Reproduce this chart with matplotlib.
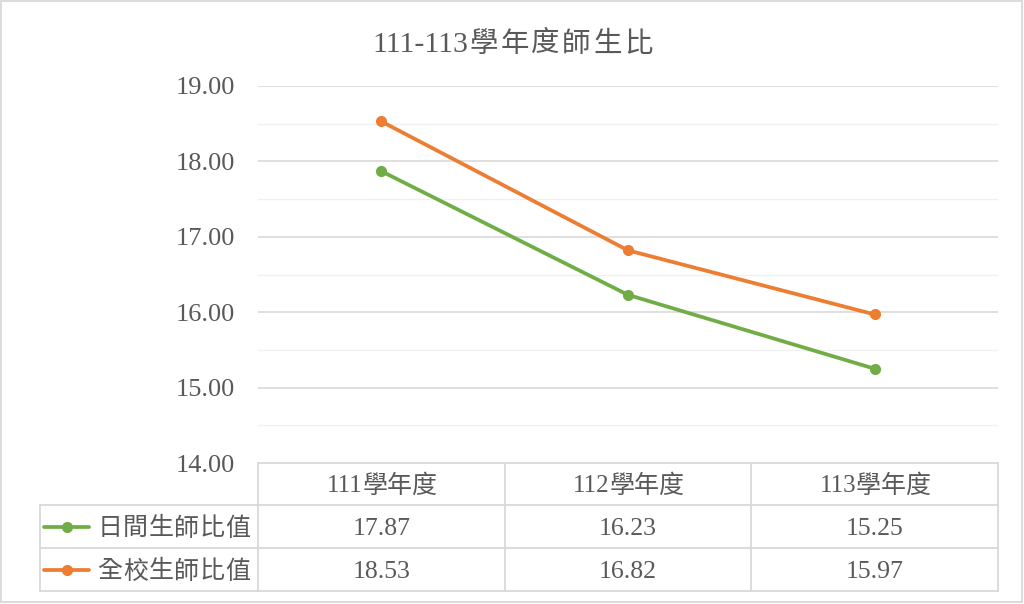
import matplotlib
matplotlib.use("Agg")
import matplotlib.pyplot as plt
from matplotlib.lines import Line2D
from matplotlib.patches import Rectangle

categories = ["111學年度", "112學年度", "113學年度"]
series_names = ["日間生師比值", "全校生師比值"]
day_values = [17.87, 16.23, 15.25]
all_values = [18.53, 16.82, 15.97]
colors = ["#70ad47", "#ed7d31"]
title = "111-113學年度師生比"
yticks = [14, 15, 16, 17, 18, 19]

W, H = 1024, 604
FONT = ["Liberation Serif", "Noto Sans CJK TC", "DejaVu Sans"]
TXT = "#595959"
GRID = "#d9d9d9"

fig = plt.figure(figsize=(W / 100, H / 100), dpi=100)
renderer = fig.canvas.get_renderer()


def fx(px):
    return px / W


def fy(py):
    return 1 - py / H


def is_cjk(ch):
    return ord(ch) > 0x2E80


def segments(s):
    segs = []
    buf = ""
    for ch in s:
        if is_cjk(ch):
            if buf:
                segs.append(("lat", buf))
                buf = ""
            segs.append(("cjk", ch))
        else:
            buf += ch
    if buf:
        segs.append(("lat", buf))
    return segs


def measure(txt, size):
    t = fig.text(0, 0, txt, fontfamily=FONT, fontsize=size)
    w = t.get_window_extent(renderer=renderer).width
    t.remove()
    return w


def spaced_text(x_px, y_px, s, size, pitch, ha="left", cjk_size=None):
    cjk_size = cjk_size or size
    segs = segments(s)
    widths = [measure(t, size) if k == "lat" else pitch for k, t in segs]
    total = sum(widths)
    x0 = x_px - total / 2 if ha == "center" else x_px
    for (k, t), w in zip(segs, widths):
        if k == "lat":
            fig.text(fx(x0), fy(y_px), t, ha="left", va="center_baseline",
                     fontfamily=FONT, fontsize=size, color=TXT)
        else:
            fig.text(fx(x0 + w / 2), fy(y_px), t, ha="center", va="center_baseline",
                     fontfamily=FONT, fontsize=cjk_size, color=TXT)
        x0 += w


# plot area
left, right, top, bottom = 258, 998, 86, 463
ax = fig.add_axes([fx(left), fy(bottom), fx(right - left), (bottom - top) / H])
ax.set_xlim(-0.5, len(categories) - 0.5)
ax.set_ylim(14, 19)
for s in ax.spines.values():
    s.set_visible(False)
ax.set_xticks([])
ax.set_yticks(yticks)
ax.set_yticklabels([f"{v:.2f}" for v in yticks], fontfamily=FONT, fontsize=19, color=TXT)
ax.tick_params(axis="y", length=0, pad=16.5)
for v in yticks[1:]:
    ax.axhline(v, color=GRID, lw=1.2, zorder=0)
for v in yticks[:-1]:
    ax.axhline(v + 0.5, color="#f0f0f0", lw=1.0, zorder=0)

x = list(range(len(categories)))
for vals, c in zip([day_values, all_values], colors):
    ax.plot(x, vals, color=c, lw=2.7, marker="o", markersize=7,
            solid_capstyle="round", zorder=3)

# title
spaced_text(513, 42, title, 21.5, 31, ha="center", cjk_size=20.5)

# data table
row_y = [463, 505, 548, 591]
tbl_left = 40
col_w = (right - left) / len(categories)
col_x = [left + i * col_w for i in range(len(categories) + 1)]
lc = GRID
lw = 1.3
fig.add_artist(Line2D([fx(left), fx(right)], [fy(row_y[0])] * 2, color=lc, lw=lw))
for yy in row_y[1:]:
    fig.add_artist(Line2D([fx(tbl_left), fx(right)], [fy(yy)] * 2, color=lc, lw=lw))
fig.add_artist(Line2D([fx(tbl_left)] * 2, [fy(row_y[1]), fy(row_y[3])], color=lc, lw=lw))
for xx in col_x:
    fig.add_artist(Line2D([fx(xx)] * 2, [fy(row_y[0]), fy(row_y[3])], color=lc, lw=lw))

# header
for i, cat in enumerate(categories):
    cx = (col_x[i] + col_x[i + 1]) / 2
    spaced_text(cx, (row_y[0] + row_y[1]) / 2, cat, 18, 24.5, ha="center")

# rows
for r, (name, vals, c) in enumerate(zip(series_names, [day_values, all_values], colors)):
    yc = (row_y[r + 1] + row_y[r + 2]) / 2
    fig.add_artist(Line2D([fx(44), fx(89)], [fy(yc)] * 2, color=c, lw=2.7,
                          solid_capstyle="round"))
    fig.add_artist(Line2D([fx(66.5)], [fy(yc)], color=c, marker="o", markersize=7, lw=0))
    spaced_text(97, yc, name, 18, 25.5, ha="left")
    for i, v in enumerate(vals):
        cx = (col_x[i] + col_x[i + 1]) / 2
        fig.text(fx(cx), fy(yc), f"{v:.2f}", ha="center", va="center_baseline",
                 fontfamily=FONT, fontsize=18.5, color=TXT)

# outer border
fig.add_artist(Rectangle((fx(1), fy(602)), fx(1021), 601 / H, fill=False,
                         edgecolor=GRID, lw=1.3))

fig.savefig("out.png", dpi=100)
